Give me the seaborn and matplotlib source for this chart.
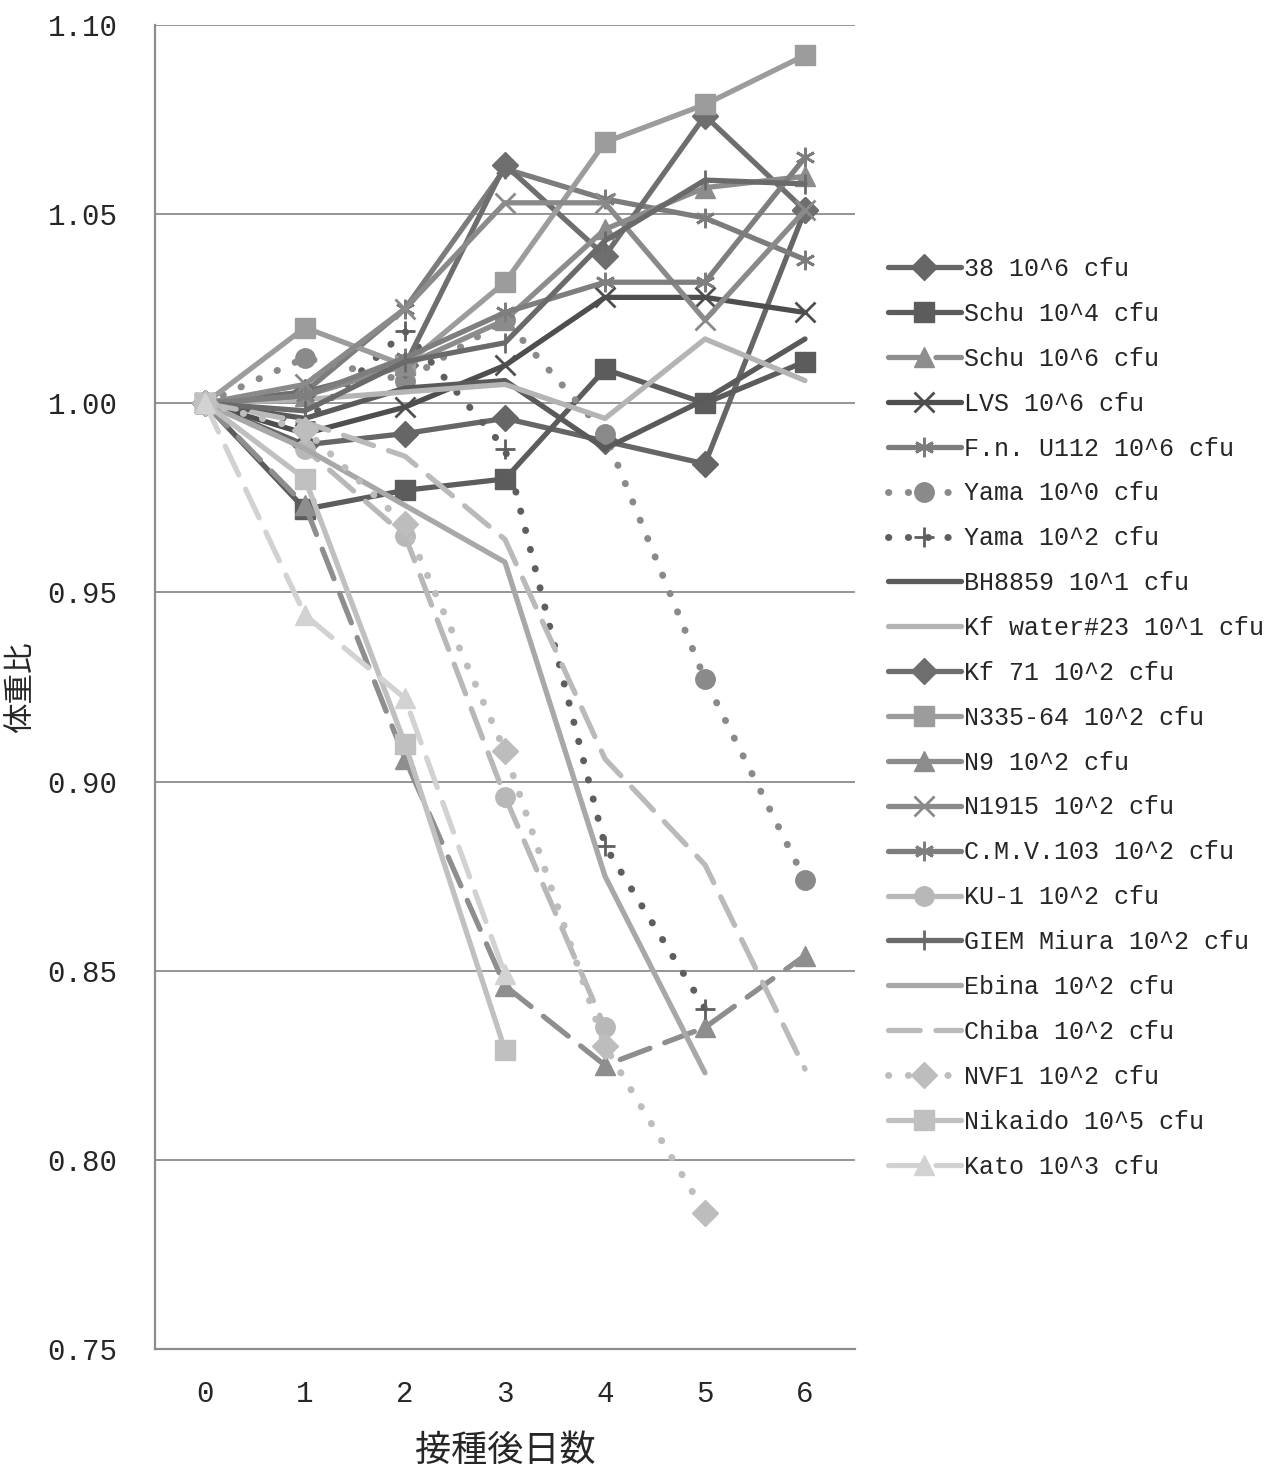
import numpy as np
import matplotlib
matplotlib.use('Agg')
import matplotlib.pyplot as plt
import seaborn as sns

sns.set_style('white')
plt.rcParams['font.family'] = ['Liberation Mono', 'Noto Sans CJK JP']

nan = np.nan
days = [0, 1, 2, 3, 4, 5, 6]

strains = ['38 10^6 cfu', 'Schu 10^4 cfu', 'Schu 10^6 cfu', 'LVS 10^6 cfu',
           'F.n. U112 10^6 cfu', 'Yama 10^0 cfu', 'Yama 10^2 cfu',
           'BH8859 10^1 cfu', 'Kf water#23 10^1 cfu', 'Kf 71 10^2 cfu',
           'N335-64 10^2 cfu', 'N9 10^2 cfu', 'N1915 10^2 cfu',
           'C.M.V.103 10^2 cfu', 'KU-1 10^2 cfu', 'GIEM Miura 10^2 cfu',
           'Ebina 10^2 cfu', 'Chiba 10^2 cfu', 'NVF1 10^2 cfu',
           'Nikaido 10^5 cfu', 'Kato 10^3 cfu']

# body weight ratio per day
w_38 = [1.000, 0.989, 0.992, 0.996, 0.990, 0.984, 1.051]
w_schu4 = [1.000, 0.972, 0.977, 0.980, 1.009, 1.000, 1.011]
w_schu6 = [1.000, 0.973, 0.906, 0.846, 0.825, 0.835, 0.854]
w_lvs = [1.000, 0.992, 0.999, 1.010, 1.028, 1.028, 1.024]
w_fn = [1.000, 1.003, 1.025, 1.062, 1.054, 1.049, 1.038]
w_yama0 = [1.000, 1.012, 1.006, 1.022, 0.992, 0.927, 0.874]
w_yama2 = [1.000, 0.995, 1.019, 0.988, 0.883, 0.840, nan]
w_bh = [1.000, 0.996, 1.004, 1.006, 0.988, 1.001, 1.017]
w_kfw = [1.000, 1.001, 1.003, 1.005, 0.996, 1.017, 1.006]
w_kf71 = [1.000, 1.003, 1.010, 1.063, 1.039, 1.076, 1.051]
w_n335 = [1.000, 1.020, 1.010, 1.032, 1.069, 1.079, 1.092]
w_n9 = [1.000, 1.002, 1.010, 1.022, 1.046, 1.057, 1.060]
w_n1915 = [1.000, 1.005, 1.025, 1.053, 1.053, 1.022, 1.051]
w_cmv = [1.000, 1.002, 1.012, 1.024, 1.032, 1.032, 1.065]
w_ku1 = [1.000, 0.988, 0.965, 0.896, 0.835, nan, nan]
w_giem = [1.000, 0.998, 1.011, 1.016, 1.043, 1.059, 1.058]
w_ebina = [1.000, 0.988, 0.973, 0.958, 0.875, 0.823, nan]
w_chiba = [1.000, 0.995, 0.986, 0.964, 0.906, 0.878, 0.824]
w_nvf1 = [1.000, 0.993, 0.968, 0.908, 0.830, 0.786, nan]
w_nikaido = [1.000, 0.980, 0.910, 0.829, nan, nan, nan]
w_kato = [1.000, 0.944, 0.922, 0.849, nan, nan, nan]

weights = [w_38, w_schu4, w_schu6, w_lvs, w_fn, w_yama0, w_yama2, w_bh, w_kfw,
           w_kf71, w_n335, w_n9, w_n1915, w_cmv, w_ku1, w_giem, w_ebina,
           w_chiba, w_nvf1, w_nikaido, w_kato]

solid = '-'
dash = (0, (6, 3))
dot = (0, (0.05, 2.8))
ast = (6, 2, 0)
# colour, line style, marker
styles = [
    ('#666666', solid, 'D'),
    ('#5c5c5c', solid, 's'),
    ('#8e8e8e', dash, '^'),
    ('#4e4e4e', solid, 'x'),
    ('#7c7c7c', solid, ast),
    ('#8a8a8a', dot, 'o'),
    ('#5e5e5e', dot, '+'),
    ('#5a5a5a', solid, None),
    ('#b4b4b4', solid, None),
    ('#6e6e6e', solid, 'D'),
    ('#9c9c9c', solid, 's'),
    ('#8c8c8c', solid, '^'),
    ('#8a8a8a', solid, 'x'),
    ('#7e7e7e', solid, ast),
    ('#b8b8b8', dash, 'o'),
    ('#6a6a6a', solid, '|'),
    ('#a8a8a8', solid, None),
    ('#bababa', dash, None),
    ('#bdbdbd', dot, 'D'),
    ('#c0c0c0', solid, 's'),
    ('#d2d2d2', dash, '^'),
]

fig = plt.figure(figsize=(12.68, 14.66), dpi=100)
ax = fig.add_axes([155 / 1268, 1 - 1349 / 1466, 700 / 1268, 1324 / 1466])

for name, w, (col, ls, mk) in zip(strains, weights, styles):
    ms = 13 if mk == 'D' else 14
    lw = 5.0 if ls == dot else 3.8
    sns.lineplot(x=days, y=w, ax=ax, color=col, linestyle=ls, marker=mk,
                 markersize=ms, markeredgewidth=2 if mk in ('x', '+', '|', ast) else 1,
                 markeredgecolor=col, linewidth=lw, dash_capstyle='round',
                 label=name)

ax.set_xlim(-0.5, 6.5)
ax.set_ylim(0.75, 1.10)
yt = np.arange(0.75, 1.1001, 0.05)
ax.set_yticks(yt)
ax.set_yticklabels(['%.2f' % v for v in yt])
ax.set_xticks(days)
ax.set_xticklabels([str(d) for d in days])
ax.set_xticks(np.arange(-0.5, 6.6, 1.0), minor=True)
ax.tick_params(axis='x', which='major', length=0, labelsize=21, pad=22)
ax.tick_params(axis='x', which='minor', length=9, width=1.3, color='#8c8c8c', direction='out')
ax.tick_params(axis='y', length=9, width=1.3, color='#8c8c8c', direction='out',
               labelsize=21, pad=18)

ax.yaxis.grid(True, color='#8c8c8c', linewidth=1.3)
ax.set_axisbelow(True)
for s in ['top', 'right']:
    ax.spines[s].set_visible(False)
for s in ['left', 'bottom']:
    ax.spines[s].set_color('#8c8c8c')
    ax.spines[s].set_linewidth(1.6)

ax.set_ylabel('体重比', fontsize=22, family=['Noto Sans CJK JP'], labelpad=8)
ax.set_xlabel('接種後日数', fontsize=26, family=['Noto Sans CJK JP'], labelpad=18)

ax.legend(loc='upper left', bbox_to_anchor=(888 / 1268, 1 - 257 / 1466),
          bbox_transform=fig.transFigure, frameon=False, fontsize=18,
          handlelength=2.9, labelspacing=0.835, borderaxespad=0, borderpad=0,
          handletextpad=0.15)

fig.savefig('out.png', dpi=100)
